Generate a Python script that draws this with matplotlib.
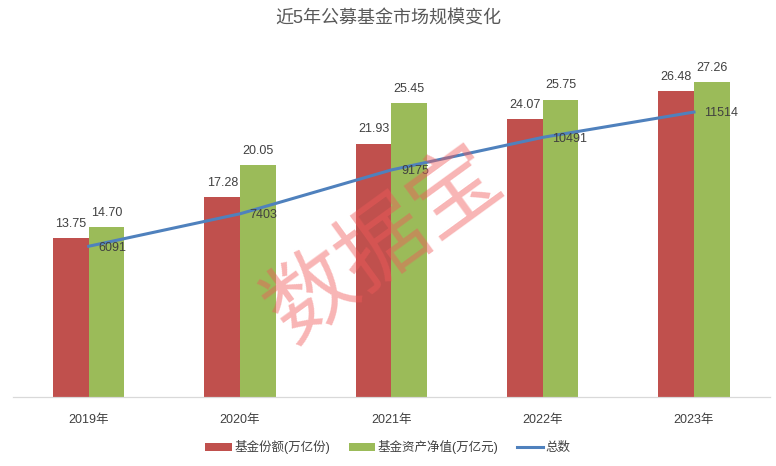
import matplotlib
matplotlib.use('Agg')
import matplotlib.pyplot as plt
import numpy as np

plt.rcParams['font.family'] = ['Liberation Sans', 'Noto Sans CJK SC', 'DejaVu Sans']

years = ['2019年', '2020年', '2021年', '2022年', '2023年']
shares = [13.75, 17.28, 21.93, 24.07, 26.48]      # 基金份额(万亿份)
nav = [14.70, 20.05, 25.45, 25.75, 27.26]         # 基金资产净值(万亿元)
total = [6091, 7403, 9175, 10491, 11514]          # 总数

red = '#C0504D'
green = '#9BBB59'
blue = '#4F81BD'
txt = '#404040'

fig = plt.figure(figsize=(7.76, 4.66), dpi=100)
ax = fig.add_axes([0.0168, 0.148, 0.975, 0.7436])
ax2 = ax.twinx()

x = np.arange(len(years))
w = 0.235
b1 = ax.bar(x - w / 2, shares, w, color=red, label='基金份额(万亿份)')
b2 = ax.bar(x + w / 2, nav, w, color=green, label='基金资产净值(万亿元)')
for xi, v in zip(x, shares):
    ax.annotate('%.2f' % v, (xi - w / 2, v), xytext=(0, 6), textcoords='offset points',
                ha='center', va='bottom', fontsize=9, color=txt)
for xi, v in zip(x, nav):
    ax.annotate('%.2f' % v, (xi + w / 2, v), xytext=(0, 6), textcoords='offset points',
                ha='center', va='bottom', fontsize=9, color=txt)

ln, = ax2.plot(x, total, color=blue, linewidth=2.2, label='总数')
for xi, v in zip(x, total):
    ax2.annotate(str(v), (xi, v), xytext=(7, -1), textcoords='offset points',
                 ha='left', va='center', fontsize=9, color=txt)

ax.set_xlim(-0.5, 4.5)
ax.set_ylim(0, 30)
ax2.set_ylim(0, 14000)
ax.set_xticks(x)
ax.set_xticklabels(years, fontsize=9, color=txt)
ax.tick_params(axis='x', length=0, pad=12)
ax.set_yticks([])
ax2.set_yticks([])
for a in (ax, ax2):
    for s in ['top', 'right', 'left']:
        a.spines[s].set_visible(False)
    a.spines['bottom'].set_color('#D9D9D9')

fig.text(0.5, 0.96, '近5年公募基金市场规模变化', ha='center', va='center',
         fontsize=13, color='#595959')

fig.legend([b1, b2, ln], ['基金份额(万亿份)', '基金资产净值(万亿元)', '总数'],
           loc='center', bbox_to_anchor=(0.5, 0.04), ncol=3, frameon=False,
           fontsize=9, handlelength=2.1, handleheight=0.6, columnspacing=1.5,
           handletextpad=0.2, labelcolor=txt)

# watermark
fig.text(0.495, 0.475, '数据宝', ha='center', va='center', rotation=36,
         fontsize=64, color='#F05A5A', alpha=0.45, family=['Noto Sans CJK SC'])

plt.savefig('out.png', dpi=100)
